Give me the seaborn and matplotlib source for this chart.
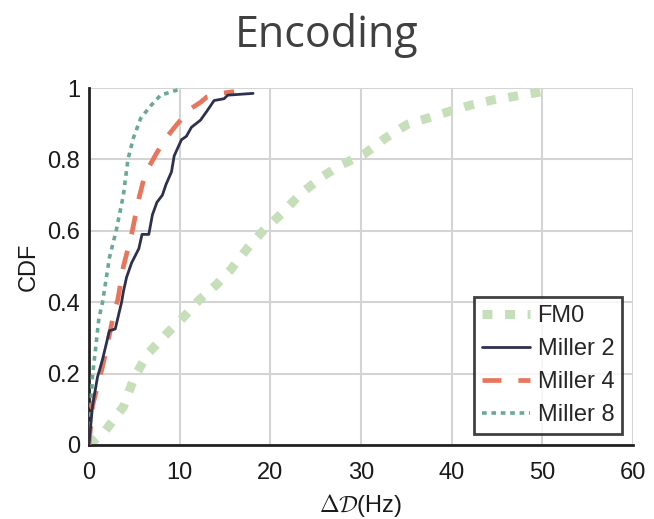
import numpy as np
import pandas as pd
import matplotlib
matplotlib.use("Agg")
import matplotlib.pyplot as plt
from matplotlib.ticker import FuncFormatter
import seaborn as sns

# CDF curves of the Doppler offset for each encoding
fm0_x = [0, 1.8, 3.8, 5.0, 6.5, 8.5, 10.5, 12.1, 14.1, 15.6, 17.6, 19.2, 21.2, 23.2,
         25.6, 27.9, 30.3, 32.7, 35.1, 37.4, 39.8, 42.2, 44.6, 47.0, 50.1, 50.3]
fm0_y = [0, 0.04, 0.107, 0.19, 0.256, 0.31, 0.36, 0.405, 0.45, 0.49, 0.555, 0.60, 0.647, 0.70,
         0.75, 0.786, 0.814, 0.86, 0.898, 0.916, 0.935, 0.953, 0.967, 0.977, 0.99, 1.0]

miller2_x = [0, 0.4, 0.94, 1.5, 2.26, 2.9, 3.6, 3.8, 4.15, 4.7, 5.5, 5.85, 6.6, 7.0, 7.5,
             8.1, 8.5, 9.1, 9.4, 10.2, 10.75, 11.3, 12.3, 13.0, 13.8, 14.9, 15.3, 18.1]
miller2_y = [0, 0.11, 0.19, 0.24, 0.32, 0.325, 0.40, 0.43, 0.47, 0.51, 0.55, 0.59, 0.59, 0.645, 0.68,
             0.70, 0.73, 0.765, 0.81, 0.855, 0.865, 0.89, 0.91, 0.935, 0.965, 0.97, 0.98, 0.985]

miller4_x = [0, 0.4, 1.5, 2.1, 2.6, 3.2, 3.8, 4.7, 5.1, 5.5, 6.2, 7.4, 8.5, 9.6,
             11.1, 12.3, 13.0, 14.5, 16.0]
miller4_y = [0, 0.11, 0.22, 0.29, 0.35, 0.41, 0.50, 0.59, 0.64, 0.69, 0.76, 0.815, 0.86, 0.895,
             0.94, 0.96, 0.975, 0.985, 0.99]

miller8_x = [0, 0.38, 1.1, 1.5, 2.26, 3.0, 3.8, 4.3, 4.9, 5.7, 6.8, 7.9, 9.8]
miller8_y = [0, 0.19, 0.355, 0.40, 0.525, 0.60, 0.70, 0.80, 0.86, 0.915, 0.95, 0.98, 0.995]

x_ticks = [0, 10, 20, 30, 40, 50, 60]
y_ticks = [0, 0.2, 0.4, 0.6, 0.8, 1.0]

sns.set_theme(style="white")
plt.rcParams["font.family"] = ["Liberation Sans", "DejaVu Sans"]
plt.rcParams["mathtext.fontset"] = "cm"

fig = plt.figure(figsize=(6.54, 5.19), dpi=100)
ax = fig.add_axes([0.136, 0.1426, 0.832, 0.6878])

series = [
    ("FM0", fm0_x, fm0_y, dict(color="#c6dfba", lw=6.5, dashes=(1.1, 1.4), zorder=2)),
    ("Miller 2", miller2_x, miller2_y, dict(color="#2d3150", lw=2.0, zorder=5)),
    ("Miller 4", miller4_x, miller4_y, dict(color="#e8765c", lw=3.4, dashes=(4.0, 3.6), zorder=4)),
    ("Miller 8", miller8_x, miller8_y, dict(color="#6aaa94", lw=2.6, dashes=(1.3, 1.3), zorder=3)),
]

for name, xs, ys, style in series:
    df = pd.DataFrame({"delta": xs, "cdf": ys})
    sns.lineplot(data=df, x="delta", y="cdf", ax=ax, label=name, **style)

ax.set_xlim(0, 60)
ax.set_ylim(0, 1)
ax.set_xticks(x_ticks)
ax.set_yticks(y_ticks)
ax.yaxis.set_major_formatter(FuncFormatter(lambda v, p: f"{v:g}"))
ax.grid(True, color="#d4d4d4", lw=1.5)
ax.set_axisbelow(True)

for side in ("top", "right"):
    ax.spines[side].set_visible(False)
for side in ("left", "bottom"):
    ax.spines[side].set_color("#222222")
    ax.spines[side].set_linewidth(2.0)

ax.tick_params(axis="both", direction="in", length=6, width=2, color="#222222",
               labelsize=17, labelcolor="#1a1a1a")
ax.tick_params(axis="y", pad=6.5)
ax.tick_params(axis="x", pad=12)

ax.set_xlabel(r"$\Delta\mathcal{D}$(Hz)", fontsize=17, color="#1a1a1a", labelpad=6)
ax.set_ylabel("CDF", fontsize=17, color="#1a1a1a", labelpad=5)

leg = ax.legend(loc="lower right", fontsize=17, handlelength=2.05, handletextpad=0.3,
                borderpad=0.35, labelspacing=0.47, fancybox=False, frameon=True,
                borderaxespad=0.45)
leg.get_frame().set_edgecolor("#111111")
leg.get_frame().set_linewidth(2.0)

fig.text(0.5, 1 - 47 / 519, "Encoding", ha="center", va="baseline",
         fontsize=31, color="#404040", family=["Open Sans", "DejaVu Sans"])

fig.savefig("out.png", dpi=100)
